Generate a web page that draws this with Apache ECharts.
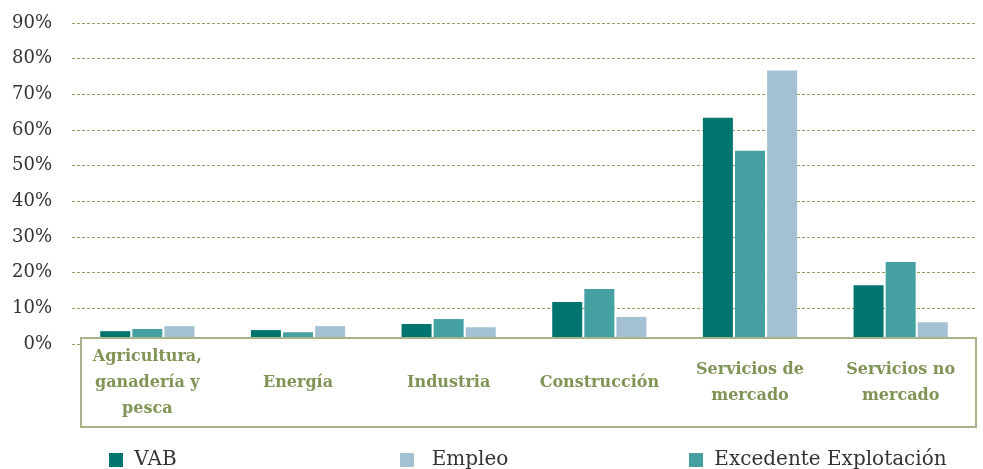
<!DOCTYPE html>
<html>
<head>
<meta charset="utf-8">
<script src="https://cdn.jsdelivr.net/npm/echarts@6/dist/echarts.min.js"></script>
<style>
  html, body { margin: 0; padding: 0; background: #fff; }
  #chart { width: 983px; height: 469px; }
</style>
</head>
<body>
<div id="chart"></div>
<script>
// datos (%)
const categories = ["Agricultura,\nganadería y\npesca", "Energía", "Industria", "Construcción", "Servicios de\nmercado", "Servicios no\nmercado"];
const vab = [3.6, 3.9, 5.6, 11.8, 63.4, 16.5];
const excedente = [4.2, 3.3, 7.0, 15.4, 54.2, 23.0];
const empleo = [5.0, 5.0, 4.7, 7.6, 76.7, 6.1];
const yTicks = [0, 10, 20, 30, 40, 50, 60, 70, 80, 90];

const font = "DejaVu Serif";
const legendText = { color: "#333", fontFamily: font, fontSize: 20 };
const legendBase = { top: 445, itemWidth: 14, itemHeight: 14, icon: "rect", textStyle: legendText };

const chart = echarts.init(document.getElementById("chart"));
const option = {
  animation: false,
  grid: { left: 72, right: 7, top: 23, bottom: 125 },
  legend: [
    Object.assign({ data: ["VAB"], left: 104, formatter: " {name}" }, legendBase),
    Object.assign({ data: ["Empleo"], left: 395, formatter: "  {name}" }, legendBase),
    Object.assign({ data: ["Excedente Explotación"], left: 684, formatter: " {name}" }, legendBase)
  ],
  xAxis: {
    type: "category",
    data: categories,
    z: 20,
    axisLine: { show: false },
    axisTick: { show: false },
    axisLabel: {
      interval: 0,
      margin: 39,
      verticalAlign: "middle",
      color: "#7f9455",
      fontFamily: font,
      fontWeight: "bold",
      fontSize: 16,
      lineHeight: 26
    }
  },
  yAxis: {
    type: "value",
    min: yTicks[0],
    max: yTicks[yTicks.length - 1],
    interval: 10,
    axisLine: { show: false },
    axisTick: { show: false },
    axisLabel: {
      margin: 20,
      formatter: "{value}%",
      color: "#333",
      fontFamily: font,
      fontSize: 18
    },
    splitLine: { lineStyle: { color: "#93a160", type: [3, 2], width: 1 } }
  },
  graphic: [{
    type: "rect",
    z: 10,
    shape: { x: 81, y: 338, width: 895, height: 89 },
    style: { fill: "#fff", stroke: "#a9b38a", lineWidth: 2 }
  }],
  series: [
    { name: "VAB", type: "bar", data: vab, barWidth: 30, barGap: "7%", itemStyle: { color: "#00756f" } },
    { name: "Excedente Explotación", type: "bar", data: excedente, barWidth: 30, barGap: "7%", itemStyle: { color: "#45a0a2" } },
    { name: "Empleo", type: "bar", data: empleo, barWidth: 30, barGap: "7%", itemStyle: { color: "#a3c1d2" } }
  ]
};
chart.setOption(option);
</script>
</body>
</html>
